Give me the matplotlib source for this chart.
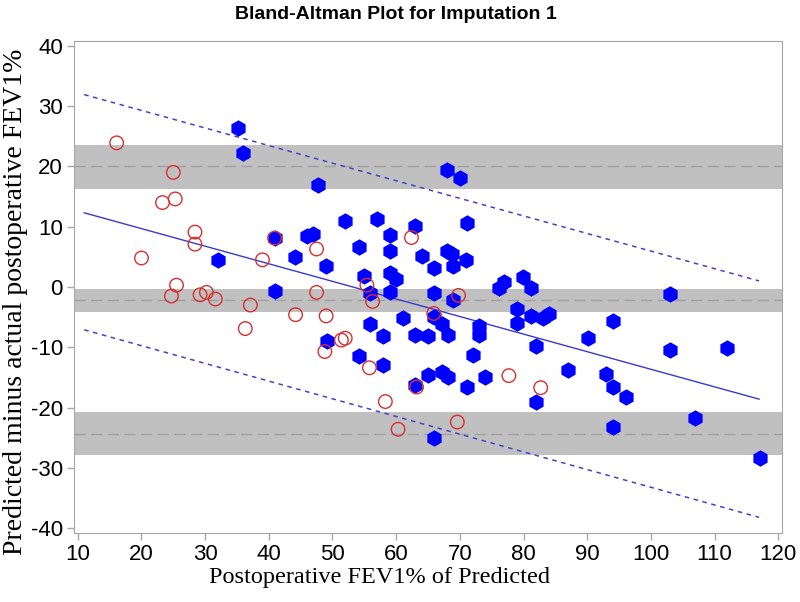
import matplotlib
matplotlib.use("Agg")
import matplotlib.pyplot as plt
from matplotlib import font_manager
import numpy as np

# imputed (red open circles)
imp_x = [16.1, 25.0, 23.3, 25.3, 28.4, 28.4, 20.0, 25.5, 24.7, 29.2, 30.2, 31.6,
         37.1, 44.2, 36.3, 39.0, 40.9, 47.5, 47.5, 62.4, 55.4, 56.3, 49.0, 69.8,
         65.9, 48.8, 51.4, 52.0, 55.8, 63.2, 77.7, 82.7, 58.3, 60.3, 69.6]
imp_y = [23.9, 19.0, 14.0, 14.6, 9.1, 7.1, 4.8, 0.3, -1.5, -1.3, -0.9, -2.0,
         -3.0, -4.6, -6.9, 4.5, 8.1, 6.3, -0.9, 8.2, 0.3, -2.4, -4.8, -1.4,
         -4.4, -10.7, -8.8, -8.5, -13.4, -16.6, -14.7, -16.7, -19.0, -23.6, -22.4]

# observed (blue filled)
obs_x = [35.1, 35.9, 47.8, 32.0, 40.9, 44.1, 46.0, 47.0, 41.0, 68.0, 70.0, 52.0,
         57.0, 63.0, 71.1, 59.0, 54.1, 59.0, 68.0, 68.7, 64.0, 71.0, 49.0, 66.0,
         69.0, 54.9, 59.0, 60.0, 55.9, 59.0, 65.9, 69.0, 76.1, 77.0, 79.9, 81.1,
         79.0, 81.1, 83.1, 84.0, 79.0, 61.0, 55.9, 65.9, 67.2, 73.0, 73.0, 58.0,
         63.0, 65.0, 68.1, 49.1, 82.0, 54.1, 58.0, 72.0, 65.0, 67.2, 68.1, 74.0,
         63.0, 71.1, 82.0, 65.9, 103.0, 94.1, 90.1, 103.0, 112.0, 87.0, 93.0, 94.1,
         96.1, 106.9, 94.1, 117.1]
obs_y = [26.3, 22.2, 16.9, 4.5, 8.1, 5.0, 8.5, 8.8, -0.6, 19.4, 18.0, 11.0,
         11.3, 10.1, 10.6, 8.7, 6.6, 5.9, 6.0, 5.5, 5.1, 4.4, 3.5, 3.2,
         3.5, 1.8, 2.4, 1.4, -1.0, -0.8, -1.0, -2.2, -0.2, 0.9, 1.6, -0.2,
         -3.7, -4.8, -5.2, -4.4, -6.0, -5.2, -6.2, -5.0, -6.1, -6.4, -8.0, -8.2,
         -8.0, -8.2, -8.0, -9.0, -9.8, -11.4, -12.9, -11.3, -14.6, -14.1, -14.9, -14.9,
         -16.3, -16.6, -19.1, -25.0, -1.2, -5.6, -8.4, -10.5, -10.1, -13.7, -14.5, -16.6,
         -18.2, -21.8, -23.2, -28.3]

# mean difference and limits of agreement with their bands
loa_center = [20.0, -2.2, -24.3]
loa_low = [16.3, -4.2, -27.9]
loa_high = [23.6, -0.3, -20.7]

# regression line and its limits
fit_x = [11, 117]
fit_y = [12.3, -18.6]
fit_upper = [31.9, 1.0]
fit_lower = [-7.1, -38.2]

plt.rcParams['axes.unicode_minus'] = False

names = {f.name for f in font_manager.fontManager.ttflist}
if 'Liberation Sans Narrow' in names:
    narrow = ['Liberation Sans Narrow', 'DejaVu Sans']
    tick_fs = 17
else:
    narrow = ['Liberation Sans', 'DejaVu Sans']
    tick_fs = 16
serif = ['Liberation Serif', 'DejaVu Serif']

fig = plt.figure(figsize=(8, 6.02), dpi=100)
ax = fig.add_axes([0.0925, 0.1146, 0.885, 0.8174])

for lo, hi, c in zip(loa_low, loa_high, loa_center):
    ax.axhspan(lo, hi, color='#c0c0c0', lw=0, zorder=0)
    ax.axhline(c, color='#a0a0a0', lw=1, ls=(0, (8, 4)), zorder=1)

ax.plot(fit_x, fit_y, color='#3a3ad0', lw=1, zorder=2)
ax.plot(fit_x, fit_upper, color='#4a40c8', lw=1.1, ls=(0, (3, 3)), zorder=2)
ax.plot(fit_x, fit_lower, color='#4a40c8', lw=1.1, ls=(0, (3, 3)), zorder=2)

ax.scatter(obs_x, obs_y, marker='h', s=140, color='#0000ff', lw=0, zorder=3)
ax.scatter(imp_x, imp_y, marker='o', s=95, facecolors='none',
           edgecolors='#d83030', lw=1, zorder=4)

ax.set_xlim(9.4, 120.6)
ax.set_ylim(-40.8, 40.8)
ax.set_xticks(np.arange(10, 121, 10))
ax.set_yticks(np.arange(-40, 41, 10))
for s in ax.spines.values():
    s.set_color('#a8a8a8')
ax.tick_params(color='#a8a8a8', length=5, width=1, pad=3)
for lab in ax.get_xticklabels() + ax.get_yticklabels():
    lab.set_family(narrow)
    lab.set_fontsize(tick_fs)

ax.set_xlabel('Postoperative FEV1% of Predicted', family=serif, fontsize=17.5,
              labelpad=1, x=0.432)
ax.set_ylabel('Predicted minus actual postoperative FEV1%', family=serif, fontsize=20,
              labelpad=2, y=0.47)
fig.suptitle('Bland-Altman Plot for Imputation 1', family=narrow, fontweight='bold',
             fontsize=14, x=0.495, y=0.99)

fig.savefig('out.png', dpi=100)
